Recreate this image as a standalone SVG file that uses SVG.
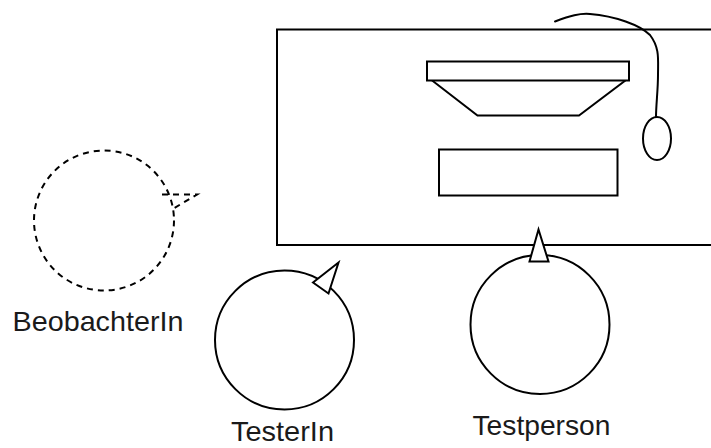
<svg xmlns="http://www.w3.org/2000/svg" width="711" height="448" viewBox="0 0 711 448">
  <style>
    .ln { fill: #fff; stroke: #000; stroke-width: 2; stroke-linejoin: miter; }
    .open { fill: none; stroke: #000; stroke-width: 2; stroke-linecap: round; }
    .dash { fill: none; stroke: #000; stroke-width: 2; stroke-dasharray: 6 5; }
    .lbl { font-family: "Liberation Sans", Arial, sans-serif; font-size: 28px; fill: #1a1a1a; }
  </style>
  <rect width="711" height="448" fill="#fff"/>

  <!-- desk with monitor, keyboard and mouse -->
  <g id="desk">
    <rect class="ln" x="277" y="29.5" width="450" height="215.5"/>
    <path class="ln" d="M431.5 80 L477.5 115.5 L579 115.5 L626 80 Z"/>
    <rect class="ln" x="427" y="61.5" width="202" height="19"/>
    <rect class="ln" x="439" y="149.5" width="178.5" height="46"/>
    <path class="open" d="M555 21.5 C570 16 580 13 590 14 C615 16 640 25 650 35 C660 48 658 60 658 75 C658 90 656 105 656 117"/>
    <ellipse class="ln" cx="657" cy="138.5" rx="14" ry="21.5"/>
  </g>

  <!-- observer -->
  <g id="beobachterin">
    <circle class="dash" cx="104" cy="220.5" r="70"/>
    <path class="dash" d="M162 194.5 L197 194.5 L171 210"/>
    <text class="lbl" x="12.5" y="331" textLength="171" lengthAdjust="spacingAndGlyphs">BeobachterIn</text>
  </g>

  <!-- tester -->
  <g id="testerin">
    <circle class="ln" cx="284.5" cy="340" r="69.5"/>
    <path class="ln" d="M313 282.5 L338.5 262.5 L328.5 293.5 Z"/>
    <text class="lbl" x="231" y="441" textLength="103" lengthAdjust="spacingAndGlyphs">TesterIn</text>
  </g>

  <!-- test person -->
  <g id="testperson">
    <circle class="ln" cx="540" cy="324.5" r="69.5"/>
    <path class="ln" d="M538.5 229.5 L529.5 261.5 L548.5 261.5 Z"/>
    <text class="lbl" x="472.5" y="434.5" textLength="138" lengthAdjust="spacingAndGlyphs">Testperson</text>
  </g>
</svg>
